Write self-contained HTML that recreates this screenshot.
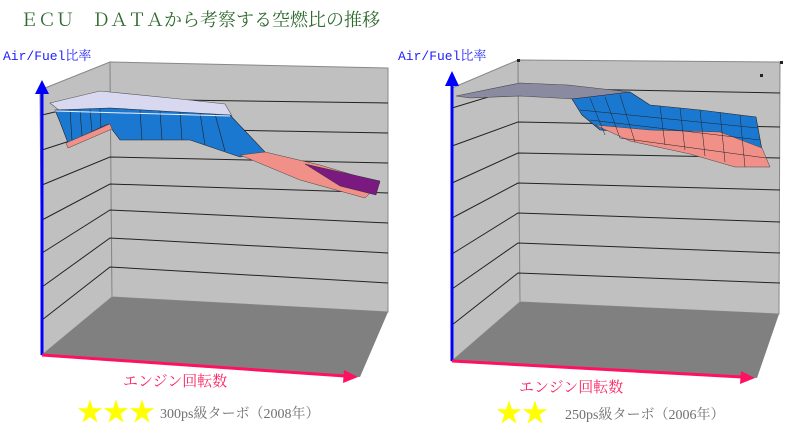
<!DOCTYPE html>
<html><head><meta charset="utf-8"><style>
html,body{margin:0;padding:0;background:#fff;width:800px;height:429px;overflow:hidden}
svg{display:block}
</style></head><body>
<svg width="800" height="429" viewBox="0 0 800 429" xmlns="http://www.w3.org/2000/svg" font-family="'Liberation Serif','Noto Serif CJK SC',serif">
<text x="20" y="26" font-size="18" fill="#2f6a2f" font-family="'Liberation Serif','Noto Serif CJK JP','Noto Serif CJK SC',serif">ＥＣＵ　ＤＡＴＡから考察する空燃比の推移</text>
<text x="3" y="60" font-size="13" fill="#2020ff" font-family="'Liberation Mono','Noto Serif CJK SC',monospace">Air/Fuel比率</text>
<text x="398" y="60" font-size="13" fill="#2020ff" font-family="'Liberation Mono','Noto Serif CJK SC',monospace">Air/Fuel比率</text>

<!-- LEFT CHART -->
<polygon points="40,90 110,62 112,297 42,355" fill="#c0c0c0" stroke="#888" stroke-width="1"/>
<polygon points="110,62 388,68 388,312 112,297" fill="#c0c0c0" stroke="#888" stroke-width="1"/>
<polygon points="42,355 112,297 388,312 360,377" fill="#808080"/>
<g stroke="#222" stroke-width="1" fill="none">
<polyline points="42,115 110,99 388,103"/>
<polyline points="42,150 110,128 388,133"/>
<polyline points="42,185 110,157 388,163"/>
<polyline points="42,220 110,184 388,193"/>
<polyline points="42,253 110,210 388,223"/>
<polyline points="42,287 110,238 388,253"/>
<polyline points="42,320 110,267 388,283"/>
</g>
<polygon points="50,103 100,91 180,99 225,104 232,116 110,117 60,111" fill="#d8d8f0" stroke="#555" stroke-width="0.6"/>
<polygon points="55,110 110,108 230,115 265,152 240,157 190,140 120,140 108,124 68,143 60,122" fill="#1a78d0" stroke="#222" stroke-width="0.6"/>
<g stroke="#222" stroke-width="0.6">
<line x1="70" y1="110" x2="72" y2="140"/><line x1="80" y1="110" x2="82" y2="136"/><line x1="90" y1="109" x2="92" y2="132"/><line x1="100" y1="109" x2="101" y2="128"/>
<line x1="140" y1="110" x2="142" y2="140"/><line x1="160" y1="111" x2="162" y2="140"/><line x1="180" y1="112" x2="182" y2="140"/><line x1="200" y1="113" x2="205" y2="145"/><line x1="215" y1="114" x2="225" y2="151"/>
<line x1="55" y1="111" x2="230" y2="116" stroke="#eef" stroke-width="1"/>
</g>
<polygon points="66,143 110,124 112,129 68,148" fill="#f09088" stroke="#444" stroke-width="0.5"/>
<polygon points="240,155 265,152 320,165 380,183 365,198 300,180" fill="#f09088" stroke="#444" stroke-width="0.5"/>
<polygon points="305,164 380,181 376,195 340,186" fill="#7a1a80" stroke="#333" stroke-width="0.5"/>
<line x1="42" y1="355" x2="42" y2="92" stroke="#0000ff" stroke-width="3"/>
<polygon points="35,94 49,94 42,80" fill="#0000ff"/>
<line x1="42" y1="355" x2="345" y2="376" stroke="#ff1060" stroke-width="3"/>
<polygon points="344,370 358,377 343,383" fill="#ff1060"/>
<text x="123" y="386" font-size="15" fill="#ff2060">エンジン回転数</text>
<text x="77" y="421" font-size="26" fill="#ffff00">★★★</text>
<text x="160" y="418" font-size="14" fill="#707070">300ps級ターボ（2008年）</text>

<!-- RIGHT CHART -->
<polygon points="452,88 518,60 520,302 452,361" fill="#c0c0c0" stroke="#888" stroke-width="1"/>
<polygon points="518,60 780,62 779,314 520,302" fill="#c0c0c0" stroke="#888" stroke-width="1"/>
<polygon points="452,361 520,302 779,314 757,378" fill="#808080"/>
<g stroke="#222" stroke-width="1" fill="none">
<polyline points="452,108 518,88 780,93"/>
<polyline points="452,146 518,122 780,127"/>
<polyline points="452,183 518,153 780,158"/>
<polyline points="452,218 518,183 780,190"/>
<polyline points="452,254 518,213 780,222"/>
<polyline points="452,289 518,243 780,253"/>
<polyline points="452,325 518,273 780,283"/>
</g>
<rect x="517" y="59" width="3" height="3" fill="#222"/>
<rect x="780" y="61" width="3" height="3" fill="#222"/>
<rect x="760" y="74" width="3" height="3" fill="#222"/>
<polygon points="456,96 520,83 568,85 630,92 575,99 520,96 470,98" fill="#8a8aa0" stroke="#444" stroke-width="0.6"/>
<polygon points="572,99 630,92 650,105 700,110 756,117 762,150 720,132 650,134 600,130 582,115" fill="#1a78d0" stroke="#222" stroke-width="0.6"/>
<polygon points="595,125 650,130 720,132 762,148 770,167 735,167 690,154 630,141" fill="#f09088" stroke="#444" stroke-width="0.5"/>
<g stroke="#222" stroke-width="0.5">
<line x1="590" y1="98" x2="605" y2="135"/><line x1="605" y1="97" x2="620" y2="138"/><line x1="620" y1="95" x2="635" y2="142"/>
<line x1="660" y1="106" x2="665" y2="145"/><line x1="680" y1="108" x2="685" y2="150"/><line x1="700" y1="110" x2="705" y2="156"/><line x1="720" y1="112" x2="725" y2="162"/><line x1="740" y1="115" x2="745" y2="167"/>
<line x1="580" y1="110" x2="758" y2="128"/><line x1="590" y1="120" x2="760" y2="140"/><line x1="620" y1="138" x2="766" y2="158"/>
</g>
<line x1="452" y1="361" x2="452" y2="82" stroke="#0000ff" stroke-width="3"/>
<polygon points="445,86 459,86 452,71" fill="#0000ff"/>
<line x1="452" y1="361" x2="742" y2="377" stroke="#ff1060" stroke-width="3"/>
<polygon points="741,371 755,378 740,384" fill="#ff1060"/>
<text x="519" y="392" font-size="15" fill="#ff2060">エンジン回転数</text>
<text x="496" y="422" font-size="26" fill="#ffff00">★★</text>
<text x="565" y="419" font-size="14" fill="#707070">250ps級ターボ（2006年）</text>
</svg>
</body></html>
